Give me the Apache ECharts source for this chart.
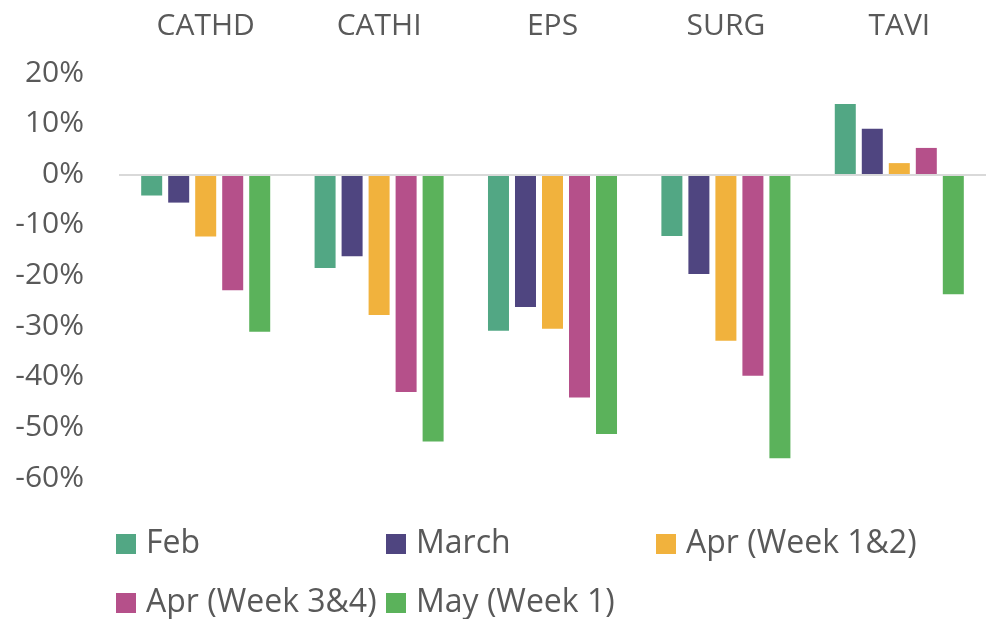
<!DOCTYPE html>
<html>
<head>
<meta charset="utf-8">
<script src="https://cdn.jsdelivr.net/npm/echarts@6/dist/echarts.min.js"></script>
<style>html,body{margin:0;padding:0;background:#fff;}#c{width:986px;height:619px;}</style>
</head>
<body>
<div id="c"></div>
<script>
const categories = ['CATHD', 'CATHI', 'EPS', 'SURG', 'TAVI'];
const seriesNames = ['Feb', 'March', 'Apr (Week 1&2)', 'Apr (Week 3&4)', 'May (Week 1)'];
const feb = [-4.2, -18.5, -30.9, -12.2, 13.9];
const march = [-5.6, -16.2, -26.2, -19.7, 9.0];
const aprW12 = [-12.3, -27.8, -30.5, -32.9, 2.2];
const aprW34 = [-22.9, -43.0, -44.1, -39.8, 5.2];
const mayW1 = [-31.1, -52.8, -51.3, -56.1, -23.7];
const yTicks = { min: -60, max: 20, interval: 10 };

const colors = ['#52A784', '#4F4580', '#F1B23D', '#B5508A', '#5BB25B'];
const values = [feb, march, aprW12, aprW34, mayW1];
const legendPos = [[116, 528], [386, 528], [656, 528], [116, 587], [386, 587]];

const chart = echarts.init(document.getElementById('c'));
const font = '"Open Sans", "Noto Sans", sans-serif';
chart.setOption({
  animation: false,
  grid: { left: 119, width: 874, top: 73, bottom: 141 },
  xAxis: {
    type: 'category', position: 'top', data: categories,
    axisLine: { show: false }, axisTick: { show: false },
    axisLabel: { color: '#595959', fontSize: 30, fontFamily: font, margin: 32 }
  },
  yAxis: {
    type: 'value', min: yTicks.min, max: yTicks.max, interval: yTicks.interval,
    axisLine: { show: false }, axisTick: { show: false }, splitLine: { show: false },
    axisLabel: { color: '#595959', fontSize: 30, fontFamily: font, margin: 35, formatter: '{value}%' }
  },
  legend: seriesNames.map((n, i) => ({
    data: [n], left: legendPos[i][0], top: legendPos[i][1], padding: 0,
    icon: 'rect', itemWidth: 20, itemHeight: 20, itemGap: 0,
    textStyle: { color: '#595959', fontSize: 32, lineHeight: 32, fontFamily: font, padding: [0, 0, 0, 5] }
  })),
  series: seriesNames.map((n, i) => ({
    name: n, type: 'bar', data: values[i],
    barWidth: 21, barGap: '28.6%',
    itemStyle: { color: colors[i] },
    markLine: i === 0 ? {
      silent: true, symbol: 'none', label: { show: false },
      lineStyle: { color: '#D9D9D9', type: 'solid', width: 2 },
      data: [{ yAxis: 0 }]
    } : undefined
  }))
});
</script>
</body>
</html>
